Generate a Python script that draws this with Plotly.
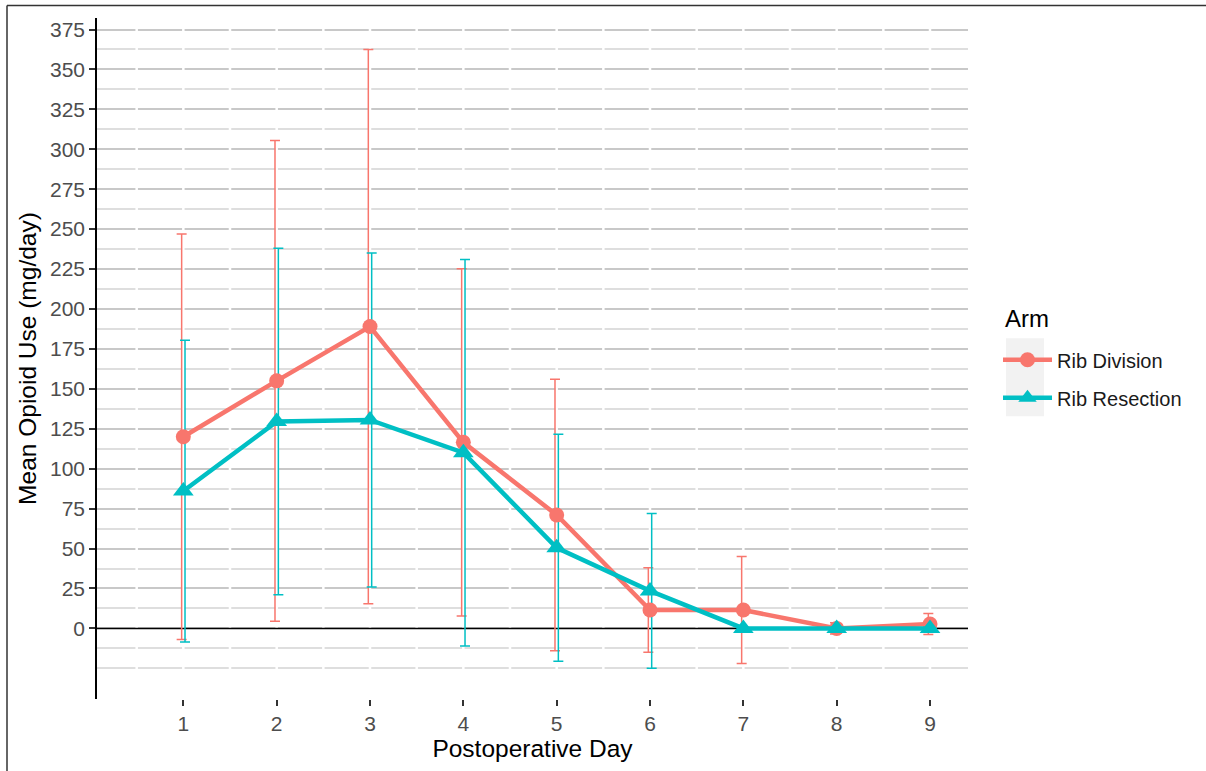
import plotly.graph_objects as go

# ---- data ----
days = [1, 2, 3, 4, 5, 6, 7, 8, 9]
division_mean = [120, 155, 189, 116.5, 71, 11.5, 11.5, 0, 2.8]
division_sd = [127, 150.5, 173.5, 108.7, 85, 26.5, 33.5, 3.5, 6.6]
resection_mean = [86, 129.5, 130.5, 110, 50.5, 23.5, 0, 0, 0]
resection_sd = [94.5, 108.5, 104.5, 121, 71, 48.5, 0, 0, 0]
y_ticks = list(range(0, 400, 25))
x_ticks = days

RED = "#F8766D"
TEAL = "#00BFC4"
FONT = "Liberation Sans, Arial, sans-serif"
dodge = 0.018
X_RANGE = [0.075, 9.407]
Y_RANGE = [-44.2, 382.2]

# plot-area geometry in page pixels (used only for paper-coordinate decorations)
PL, PR, PT, PB = 97, 968, 17.5, 699
PW, PH = PR - PL, PB - PT


def px(xpix):
    return (xpix - PL) / PW


def py(ypix):
    return (PB - ypix) / PH


fig = go.Figure()

# white vertical grid lines (cut the grey horizontal lines), as a background trace
gx, gy = [], []
v = 0.5
while v < X_RANGE[1]:
    gx += [v, v, None]
    gy += [Y_RANGE[0], Y_RANGE[1], None]
    v += 0.5
fig.add_trace(go.Scatter(x=gx, y=gy, mode="lines", line=dict(color="white", width=2.5),
                         showlegend=False, hoverinfo="skip"))
# zero reference line
fig.add_trace(go.Scatter(x=X_RANGE, y=[0, 0], mode="lines", line=dict(color="black", width=1.5),
                         showlegend=False, hoverinfo="skip"))

# error bars (drawn beneath lines/points, dodged)
fig.add_trace(go.Scatter(
    x=[d - dodge for d in days], y=division_mean, mode="markers",
    marker=dict(size=1, opacity=0), showlegend=False, hoverinfo="skip",
    error_y=dict(type="data", array=division_sd, visible=True,
                 color=RED, thickness=1.5, width=5)))
fig.add_trace(go.Scatter(
    x=[d + dodge for d in days], y=resection_mean, mode="markers",
    marker=dict(size=1, opacity=0), showlegend=False, hoverinfo="skip",
    error_y=dict(type="data", array=resection_sd, visible=True,
                 color=TEAL, thickness=1.5, width=5)))

fig.add_trace(go.Scatter(
    x=days, y=division_mean, mode="lines+markers", name="Rib Division",
    legendgroup="a",
    line=dict(color=RED, width=4.5),
    marker=dict(symbol="circle", size=15, color=RED)))
fig.add_trace(go.Scatter(
    x=days, y=resection_mean, mode="lines+markers", name="Rib Resection",
    legendgroup="b",
    line=dict(color=TEAL, width=4.5),
    marker=dict(symbol="triangle-up", size=18, color=TEAL)))

shapes = []
# legend key background
shapes.append(dict(type="rect", xref="paper", yref="paper",
                   x0=px(1006), x1=px(1044), y0=py(416), y1=py(338),
                   fillcolor="#F2F2F2", line=dict(width=0), layer="below"))
# outer frame
shapes.append(dict(type="line", xref="paper", yref="paper",
                   x0=px(7), x1=px(1206), y0=py(5), y1=py(5),
                   line=dict(color="#333333", width=1.5)))
shapes.append(dict(type="line", xref="paper", yref="paper",
                   x0=px(7), x1=px(7), y0=py(5), y1=py(771),
                   line=dict(color="#333333", width=1.5)))

minor_vals = [-25] + [m + 12.5 for m in range(-25, 375, 25)]

fig.update_layout(
    width=1206, height=771,
    margin=dict(l=PL, r=1206 - PR, t=PT, b=771 - PB),
    paper_bgcolor="white", plot_bgcolor="white",
    font=dict(family=FONT, color="black"),
    shapes=shapes,
    annotations=[dict(text="Arm", xref="paper", yref="paper", x=px(1003), y=py(318),
                      xanchor="left", yanchor="middle", showarrow=False,
                      font=dict(size=24, color="black", family=FONT))],
    xaxis=dict(
        range=X_RANGE, tickmode="array", tickvals=x_ticks,
        showgrid=False, zeroline=False, showline=False,
        ticks="outside", ticklen=6, tickwidth=1.5, tickcolor="#333333",
        tickfont=dict(size=21, color="#4D4D4D", family=FONT),
        title=dict(text="Postoperative Day", font=dict(size=24.5, color="black", family=FONT),
                   standoff=2),
    ),
    yaxis=dict(
        range=Y_RANGE, tickmode="array", tickvals=y_ticks,
        showgrid=True, gridcolor="#C8C8C8", gridwidth=1.5,
        minor=dict(tickmode="array", tickvals=minor_vals, showgrid=True,
                   gridcolor="#DEDEDE", gridwidth=1.5, ticks=""),
        zeroline=False, showline=True, linecolor="black", linewidth=1.5,
        ticks="outside", ticklen=6, tickwidth=1.5, tickcolor="#333333",
        tickfont=dict(size=21, color="#4D4D4D", family=FONT),
        title=dict(text="Mean Opioid Use (mg/day)", font=dict(size=24.5, color="black", family=FONT),
                   standoff=6),
    ),
    legend=dict(
        font=dict(size=20, color="#1a1a1a", family=FONT),
        x=px(998), xanchor="left",
        y=py(340), yanchor="top",
        bgcolor="rgba(0,0,0,0)", tracegroupgap=9, itemwidth=49,
    ),
)

fig.write_html("out.html", config={"displayModeBar": False},
               post_script="document.body.style.margin='0';")
